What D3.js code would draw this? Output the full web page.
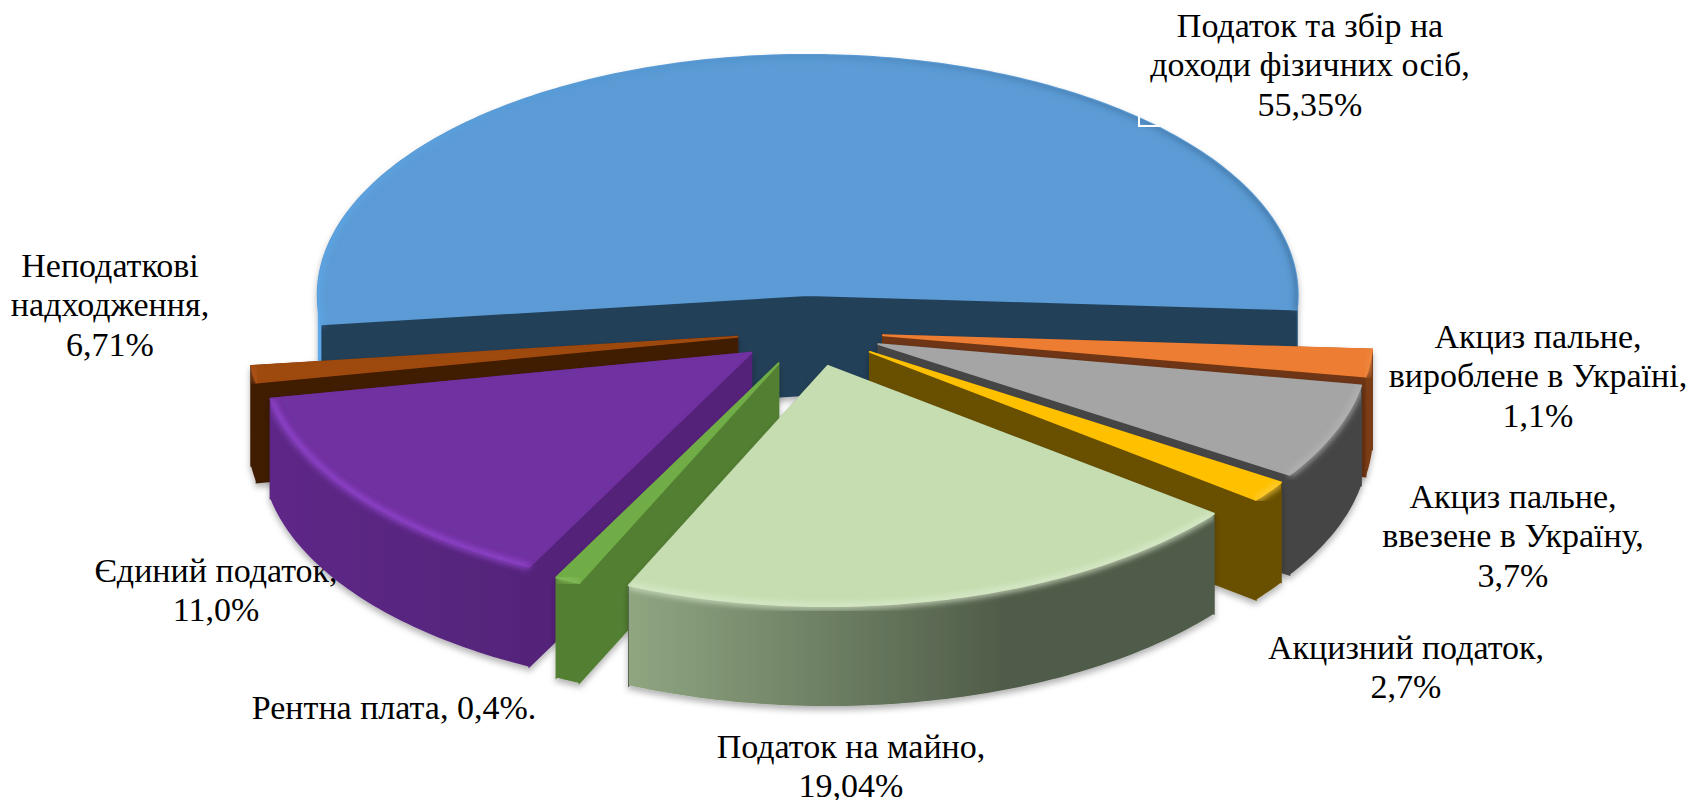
<!DOCTYPE html>
<html><head><meta charset="utf-8">
<script src="https://d3js.org/d3.v7.min.js"></script>
<style>html,body{margin:0;background:#fff}svg{display:block}text{font-family:"Liberation Serif","Times New Roman",serif;font-size:34px;fill:#000;text-anchor:middle}</style>
</head><body><svg id="c" width="1690" height="800"></svg>
<script>
// Categories clockwise, starting from the largest slice
const categories = ["Податок та збір на доходи фізичних осіб","Акциз пальне, вироблене в Україні","Акциз пальне, ввезене в Україну","Акцизний податок","Податок на майно","Рентна плата","Єдиний податок","Неподаткові надходження"];
// Percentages as printed on the labels
const printedValues = ["55,35%","1,1%","3,7%","2,7%","19,04%","0,4%","11,0%","6,71%"];
// Angular share of each slice as measured on the picture
const drawnShares = [52.9,1.8,6.4,1.4,21.1,0.83,14.45,1.12];
const labelLines = [["Податок та збір на","доходи фізичних осіб,","55,35%"],["Акциз пальне,","вироблене в Україні,","1,1%"],["Акциз пальне,","ввезене в Україну,","3,7%"],["Акцизний податок,","2,7%"],["Податок на майно,","19,04%"],["Рентна плата, 0,4%."],["Єдиний податок,","11,0%"],["Неподаткові","надходження,","6,71%"]];
const labelX = [1310,1538,1513,1406,851,394,216,110];
const labelY = [37,348,508,659,758,719,582,277];
const topColors = ["#5B9BD5","#ED7D31","#A5A5A5","#FFC000","#C5DDB0","#70AD47","#7030A0","#9E480E"];
const sideColors = ["#234059","#6E3512","#454545","#695000","#4F5B48","#537F31","#54247A","#401C00"];
const rimLight = ["#4F8CC4","#F08A45","#B5B5B5","#FFCF40","#DCEBCE","#8CC060","#9A48D8","#B4581C"];
const wallFrom = ["#5DA9EA","#7A3C16","#454545","#695000","#8FA681","#537F31","#5E2888","#401C00"];
const wallTo = ["#3F6F9C","#7A3C16","#454545","#695000","#4F5B48","#537F31","#54247A","#401C00"];
// Paint order, back to front
const paintOrder = [0,1,7,2,6,3,5,4];

const svg = d3.select("#c"), defs = svg.append("defs");
const R = 490, squash = 0.49, centerX = 810, centerY = 331, depth = 100, explode = 0.15;
const x = d3.scaleLinear().domain([-1,1]).range([centerX-R,centerX+R]);
const y = d3.scaleLinear().domain([-1,1]).range([centerY+R*squash,centerY-R*squash]);
const deg = Math.PI/180;
const arcs = d3.pie().sort(null).value(d=>d).startAngle(263*deg).endAngle((263+360)*deg)(drawnShares);
const line = d3.line();
const blur = defs.append("filter").attr("id","soft").attr("x","-5%").attr("y","-5%").attr("width","110%").attr("height","110%");
blur.append("feGaussianBlur").attr("stdDeviation",3);
const shadow = defs.append("filter").attr("id","shade").attr("x","-5%").attr("y","-5%").attr("width","110%").attr("height","115%");
shadow.append("feDropShadow").attr("dx",0).attr("dy",4).attr("stdDeviation",3).attr("flood-color","#000").attr("flood-opacity",.3);

// labels under the pie: the comma of one label is covered by a slice
const labels = svg.append("g").selectAll("text").data(labelLines).join("text")
  .attr("transform",(d,i)=>`translate(${labelX[i]},${labelY[i]})`);
labels.selectAll("tspan").data(d=>d).join("tspan").attr("x",0).attr("y",(d,i)=>i*39.4).text(d=>d);

const pie = svg.append("g");
paintOrder.forEach(i=>{
  const a = arcs[i], mid=(a.startAngle+a.endAngle)/2;
  const P=(t,r,z=0)=>[x(explode*Math.sin(mid)+r*Math.sin(t)), y(explode*Math.cos(mid)+r*Math.cos(t))+z];
  const ts=d3.range(0,1.0001,1/Math.max(2,Math.ceil((a.endAngle-a.startAngle)/deg))).map(f=>a.startAngle+f*(a.endAngle-a.startAngle));
  const rim=ts.map(t=>P(t,1));
  const tip=P(mid,0);
  const topPath=line([tip,...rim])+"Z";
  // outer wall: only the stretches of rim that face the viewer
  const runs=[]; let cur=null;
  ts.forEach(t=>{ if(Math.cos(t)<=0.02){ if(!cur){cur=[];runs.push(cur);} cur.push(t);} else cur=null; });
  const wallPaths=runs.filter(r=>r.length>1).map(r=>line([...r.map(t=>P(t,1)),...r.map(t=>P(t,1,depth)).reverse()])+"Z");
  const radial=t=>line([tip,P(t,1),P(t,1,depth),P(mid,0,depth)])+"Z";
  const g=pie.append("g").attr("filter","url(#shade)");
  const clipId="clip"+i;
  const clip=defs.append("clipPath").attr("id",clipId);
  [topPath,...wallPaths,radial(a.startAngle),radial(a.endAngle)].forEach(d=>clip.append("path").attr("d",d));
  [a.startAngle,a.endAngle].forEach(t=>g.append("path").attr("d",radial(t)).attr("fill",sideColors[i]).attr("stroke",sideColors[i]).attr("stroke-width",1.6));
  const gid="wall"+i;
  const lg=defs.append("linearGradient").attr("id",gid).attr("gradientUnits","userSpaceOnUse")
    .attr("x1",d3.min(rim,p=>p[0])).attr("x2",d3.max(rim,p=>p[0])).attr("y1",0).attr("y2",0);
  lg.append("stop").attr("offset",0).attr("stop-color",wallFrom[i]);
  lg.append("stop").attr("offset",i==4?.65:1).attr("stop-color",wallTo[i]);
  if(i==4) lg.append("stop").attr("offset",1).attr("stop-color",wallTo[i]);
  wallPaths.forEach(d=>g.append("path").attr("d",d).attr("fill",`url(#${gid})`));
  g.append("path").attr("d",topPath).attr("fill",topColors[i]).attr("stroke",topColors[i]).attr("stroke-width",2).attr("stroke-linejoin","round");
  g.append("path").attr("d",line(rim)).attr("fill","none").attr("stroke",i==0?`url(#${gid})`:rimLight[i]).attr("stroke-width",5)
    .attr("filter","url(#soft)").attr("clip-path",`url(#${clipId})`);
});
// small white box corner left over on the blue slice
svg.append("path").attr("d","M1139 115V126H1160").attr("fill","none").attr("stroke","#fff").attr("stroke-width",2);
</script></body></html>
